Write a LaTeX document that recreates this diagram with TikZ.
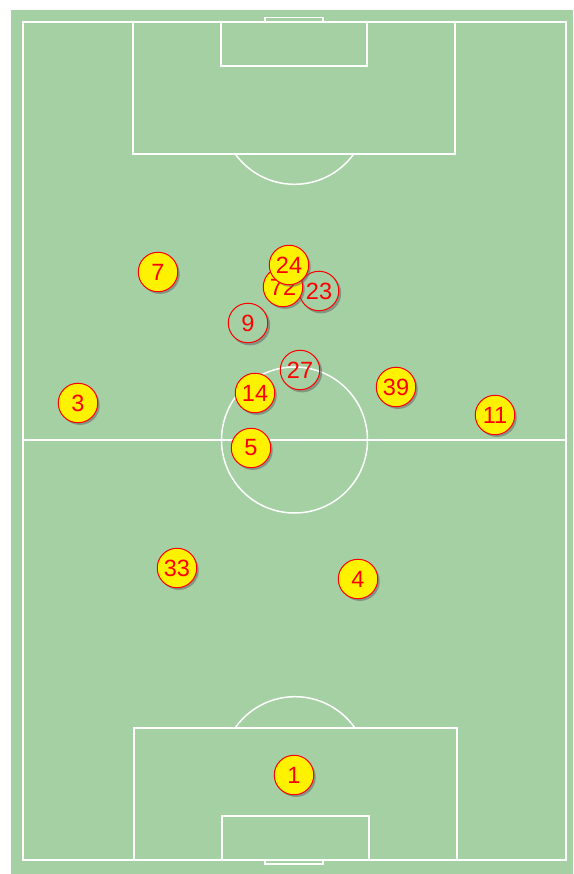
\documentclass[tikz,border=0pt]{standalone}
\usepackage{fontspec}
\setmainfont{Liberation Sans}
\usetikzlibrary{shadows}
\definecolor{pitch}{RGB}{164,208,164}
\definecolor{pred}{RGB}{255,0,0}
\newcommand{\awayshadow}[2]{%
  \begin{scope}[even odd rule]
    \clip (0,0) rectangle (573,874) (#1,#2) circle[radius=20];
    \fill[black!60,opacity=0.55] ({#1+2},{#2+2.2}) circle[radius=20.2];
  \end{scope}}
\begin{document}
\begin{tikzpicture}[x=1pt,y=-1pt,
  line/.style={draw=white,line width=1.5pt},
  home/.style={circle,minimum size=39.5pt,inner sep=0pt,fill=yellow,draw=pred,line width=1pt,
    text=pred,font=\fontsize{23.5}{23.5}\selectfont,
    general shadow={fill=black!60,opacity=0.55,shadow xshift=2pt,shadow yshift=-2.2pt}},
  away/.style={circle,minimum size=39.5pt,inner sep=0pt,draw=pred,line width=1pt,
    text=pred,font=\fontsize{23.5}{23.5}\selectfont}]
\useasboundingbox (0,0) rectangle (573,874);
\fill[white] (0,0) rectangle (573,874);
\fill[pitch] (11,10) rectangle (573,874);
% outer lines
\draw[line] (23,22) rectangle (566,860);
\draw[line] (23,440) -- (566,440);
\draw[line] (294.5,440) circle[radius=73];
\fill[white] (294.5,440) circle[radius=1.2];
% top end
\draw[line] (133,22) rectangle (455,154);
\draw[line] (221,22) rectangle (367,66);
\draw[line] (265,22) -- (265,17.5) -- (323,17.5) -- (323,22);
\begin{scope}
  \clip (0,154.8) rectangle (573,300);
  \draw[line] (294.5,111.3) circle[radius=73];
\end{scope}
% bottom end
\draw[line] (134,728) rectangle (457,860);
\draw[line] (222,816) rectangle (369,860);
\draw[line] (265,860) -- (265,864) -- (323,864) -- (323,860);
\begin{scope}
  \clip (0,580) rectangle (573,727.2);
  \draw[line] (295,769.7) circle[radius=73];
\end{scope}
% players
\node[home] (p7) at (158,272) {7};
\node[home] (p3) at (78,403) {3};
\node[home] (p11) at (495,415) {11};
\node[home] (p33) at (177,568) {33};
\node[home] (p4) at (358,579) {4};
\node[home] (p1) at (294,775) {1};
\node[home] (p14) at (255,393) {14};
\node[home] (p5) at (251,448) {5};
\node[home] (p39) at (396,387) {39};
\awayshadow{248}{323}
\node[away] (p9) at (248,323) {9};
\awayshadow{300}{370}
\node[away] (p27) at (300,370) {27};
\awayshadow{319}{291}
\node[away] (p23) at (319,291) {23};
\node[home] (p72) at (283,287) {72};
\node[home] (p24) at (289,265) {24};
\end{tikzpicture}
\end{document}
